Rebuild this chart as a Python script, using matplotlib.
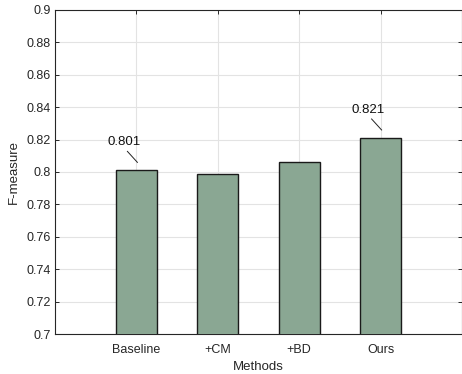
import matplotlib
matplotlib.use("Agg")
import matplotlib.pyplot as plt
import numpy as np

methods = ["Baseline", "+CM", "+BD", "Ours"]
fmeasure = [0.801, 0.799, 0.806, 0.821]
labelled = {0: "0.801", 3: "0.821"}

plt.rcParams['font.family'] = ['Liberation Sans', 'DejaVu Sans']
plt.rcParams['font.size'] = 9

W, H = 462, 374
fig = plt.figure(figsize=(W/100, H/100), dpi=100)
ax_l, ax_b, ax_w, ax_h = 55, 40, 407, 324
ax = fig.add_axes([ax_l/W, ax_b/H, ax_w/W, ax_h/H])

xlim = (0, 5)
ylim = (0.7, 0.9)
px_x = (xlim[1] - xlim[0]) / ax_w
px_y = (ylim[1] - ylim[0]) / ax_h

x = np.arange(1, len(methods) + 1)
ax.bar(x, fmeasure, width=0.5, color='#8aa793', edgecolor='#1a1a1a', linewidth=1.0, zorder=3)

# MATLAB-style text arrows above selected bars
for i, txt in labelled.items():
    xb, yb = x[i], fmeasure[i]
    ax.text(xb - 12*px_x, yb + 25*px_y, txt, ha='center', va='baseline',
            fontsize=9.5, color='#111111', zorder=4)
    ax.plot([xb - 9*px_x, xb + 1*px_x], [yb + 19*px_y, yb + 8*px_y],
            color='#222222', lw=0.7, zorder=4)

ax.set_xlim(*xlim)
ax.set_ylim(*ylim)
ax.set_xticks(x)
ax.set_xticklabels(methods)
ax.set_yticks(np.arange(0.7, 0.9001, 0.02))
ax.set_yticklabels(['0.7', '0.72', '0.74', '0.76', '0.78', '0.8', '0.82', '0.84', '0.86', '0.88', '0.9'])
ax.grid(True, color='#e3e3e3', linewidth=0.8, zorder=0)
ax.tick_params(direction='in', top=True, right=True, length=3, width=0.7, colors='#262626', labelcolor='#262626')
ax.tick_params(axis='x', pad=7)
ax.tick_params(axis='y', pad=3)
for s in ax.spines.values():
    s.set_color('#262626')
    s.set_linewidth(0.8)

ax.set_xlabel("Methods", fontsize=9.5, color='#262626', labelpad=4)
ax.set_ylabel("F-measure", fontsize=9.5, color='#262626', labelpad=5)

fig.savefig("out.png", dpi=100)
